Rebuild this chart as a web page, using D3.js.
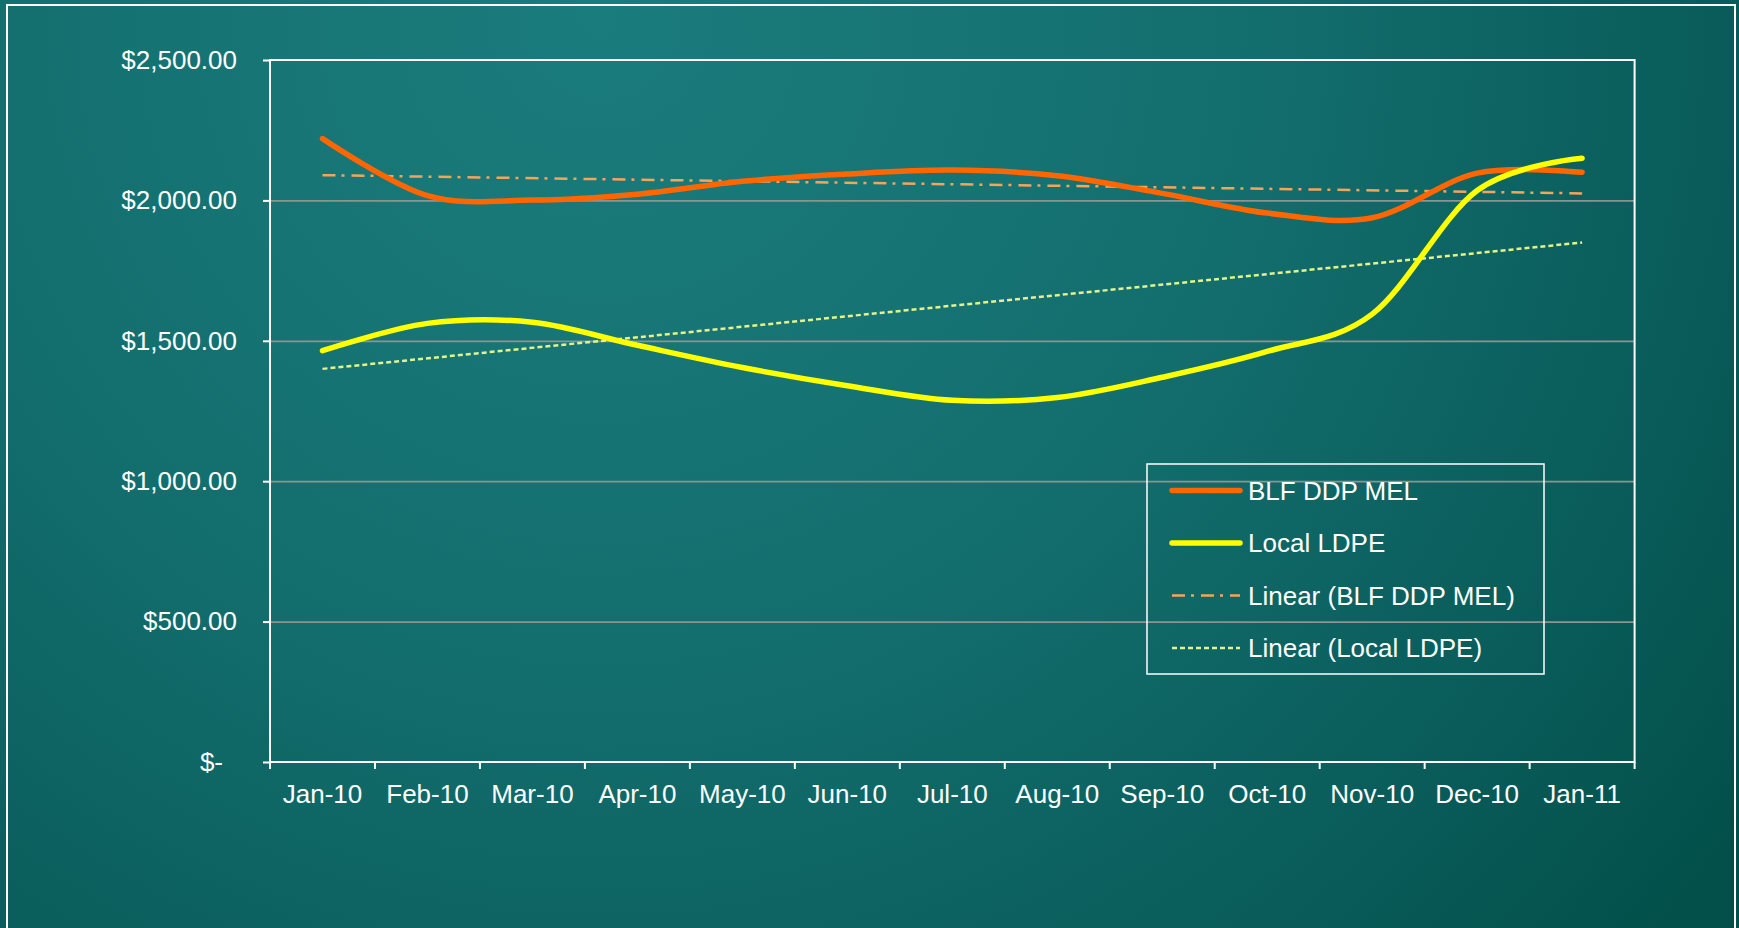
<!DOCTYPE html>
<html>
<head>
<meta charset="utf-8">
<script src="https://cdn.jsdelivr.net/npm/d3@7"></script>
<style>
  html, body { margin: 0; padding: 0; background: #0b5e5d; }
  svg { display: block; }
  text { font-family: Arial, 'Liberation Sans', sans-serif; fill: #ffffff; }
</style>
</head>
<body>
<div id="chart"></div>
<script>

var months = ['Jan-10', 'Feb-10', 'Mar-10', 'Apr-10', 'May-10', 'Jun-10',
  'Jul-10', 'Aug-10', 'Sep-10', 'Oct-10', 'Nov-10', 'Dec-10', 'Jan-11'];

var blfDdpMel = [2220, 2017, 2001, 2022, 2068, 2094, 2108, 2088, 2025, 1955,
  1938, 2097, 2100];
var localLdpe = [1465, 1562, 1566, 1484, 1405, 1340, 1288, 1298, 1370, 1462,
  1595, 2035, 2150];

// trend lines: first month, last month
var blfTrend = [2090, 2025];
var ldpeTrend = [1400, 1850];

var yTicks = [0, 500, 1000, 1500, 2000, 2500];
var legendLabels = ['BLF DDP MEL', 'Local LDPE', 'Linear (BLF DDP MEL)',
  'Linear (Local LDPE)'];

var W = 1739, H = 928;
var plot = { left: 270, top: 60, right: 1634.6, bottom: 762 };

var styles = [
  { stroke: '#ff6600', width: 5.5, dash: null },
  { stroke: '#ffff00', width: 5.5, dash: null },
  { stroke: '#f4a55c', width: 2.5, dash: '13,6,3,7' },
  { stroke: '#e4f28c', width: 2.5, dash: '5,3' }
];

var svg = d3.select('#chart').append('svg')
  .attr('width', W)
  .attr('height', H);

var defs = svg.append('defs');
var grad = defs.append('radialGradient')
  .attr('id', 'bg')
  .attr('gradientUnits', 'userSpaceOnUse')
  .attr('cx', 600).attr('cy', 20).attr('r', 1400);
grad.append('stop').attr('offset', 0).attr('stop-color', '#1b7c7d');
grad.append('stop').attr('offset', 0.45).attr('stop-color', '#136f6e');
grad.append('stop').attr('offset', 0.8).attr('stop-color', '#095c5a');
grad.append('stop').attr('offset', 1).attr('stop-color', '#03504a');

svg.append('rect')
  .attr('width', W).attr('height', H)
  .attr('fill', 'url(#bg)');

// outer frame, runs off the bottom of the page
svg.append('rect')
  .attr('x', 7).attr('y', 5)
  .attr('width', 1728).attr('height', H + 20)
  .attr('fill', 'none')
  .attr('stroke', '#ffffff')
  .attr('stroke-width', 2);

var x = d3.scaleBand()
  .domain(months)
  .range([plot.left, plot.right])
  .paddingInner(0).paddingOuter(0);

var y = d3.scaleLinear()
  .domain([0, 2500])
  .range([plot.bottom, plot.top]);

function cx(d) {
  return x(d) + x.bandwidth() / 2;
}

// gridlines
svg.append('g').attr('class', 'grid')
  .attr('transform', 'translate(' + plot.left + ',0)')
  .call(d3.axisLeft(y)
    .tickValues(yTicks.filter(function (v) { return v > 0 && v < 2500; }))
    .tickSize(-(plot.right - plot.left))
    .tickFormat(''))
  .call(function (g) {
    g.select('.domain').remove();
    g.selectAll('line')
      .attr('stroke', '#8e9292')
      .attr('stroke-width', 1.8);
  });

// y axis
svg.append('g').attr('class', 'y-axis')
  .attr('transform', 'translate(' + plot.left + ',0)')
  .call(d3.axisLeft(y)
    .tickValues(yTicks)
    .tickSize(7)
    .tickPadding(26)
    .tickFormat(function (v) {
      return v === 0 ? '$-' : d3.format('$,.2f')(v);
    }))
  .call(function (g) {
    g.select('.domain').remove();
    g.selectAll('line').attr('stroke', '#ffffff').attr('stroke-width', 2);
    g.selectAll('text')
      .attr('font-size', 26)
      .attr('fill', '#ffffff')
      .attr('x', function (v) { return v === 0 ? -47 : -33; });
  });

// x axis labels at category centers
svg.append('g').attr('class', 'x-axis')
  .attr('transform', 'translate(0,' + plot.bottom + ')')
  .call(d3.axisBottom(x)
    .tickSize(0)
    .tickPadding(22.5))
  .call(function (g) {
    g.select('.domain').remove();
    g.selectAll('text')
      .attr('font-size', 26)
      .attr('fill', '#ffffff');
  });

// x ticks on category boundaries
var bounds = months.map(function (m) { return x(m); }).concat([plot.right]);
svg.append('g').attr('class', 'x-ticks')
  .selectAll('line')
  .data(bounds)
  .join('line')
  .attr('x1', function (d) { return d; })
  .attr('x2', function (d) { return d; })
  .attr('y1', plot.bottom)
  .attr('y2', plot.bottom + 7)
  .attr('stroke', '#ffffff')
  .attr('stroke-width', 2);

// plot border
svg.append('rect')
  .attr('x', plot.left).attr('y', plot.top)
  .attr('width', plot.right - plot.left)
  .attr('height', plot.bottom - plot.top)
  .attr('fill', 'none')
  .attr('stroke', '#ffffff')
  .attr('stroke-width', 2);

// uniform catmull-rom, close to the office "smoothed line"
var smooth = d3.line()
  .x(function (d, i) { return cx(months[i]); })
  .y(function (d) { return y(d); })
  .curve(d3.curveCatmullRom.alpha(0));

var lines = svg.append('g').attr('class', 'lines');

function trendPath(vals) {
  return d3.line()([
    [cx(months[0]), y(vals[0])],
    [cx(months[months.length - 1]), y(vals[1])]
  ]);
}

lines.append('path')
  .attr('d', trendPath(blfTrend))
  .attr('fill', 'none')
  .attr('stroke', styles[2].stroke)
  .attr('stroke-width', styles[2].width)
  .attr('stroke-dasharray', styles[2].dash);

lines.append('path')
  .attr('d', trendPath(ldpeTrend))
  .attr('fill', 'none')
  .attr('stroke', styles[3].stroke)
  .attr('stroke-width', styles[3].width)
  .attr('stroke-dasharray', styles[3].dash);

[blfDdpMel, localLdpe].forEach(function (series, i) {
  lines.append('path')
    .attr('d', smooth(series))
    .attr('fill', 'none')
    .attr('stroke', styles[i].stroke)
    .attr('stroke-width', styles[i].width)
    .attr('stroke-linecap', 'round')
    .attr('stroke-linejoin', 'round');
});

// legend
var legend = svg.append('g').attr('class', 'legend')
  .attr('transform', 'translate(1147,464)');

legend.append('rect')
  .attr('width', 397).attr('height', 210)
  .attr('fill', 'none')
  .attr('stroke', '#ffffff')
  .attr('stroke-width', 1.5);

var rows = legend.selectAll('g.row')
  .data(legendLabels)
  .join('g')
  .attr('class', 'row')
  .attr('transform', function (d, i) {
    return 'translate(0,' + (26.5 + i * 52.5) + ')';
  });

rows.append('line')
  .attr('x1', 25).attr('x2', 93)
  .attr('y1', 0).attr('y2', 0)
  .attr('stroke', function (d, i) { return styles[i].stroke; })
  .attr('stroke-width', function (d, i) { return styles[i].width; })
  .attr('stroke-dasharray', function (d, i) { return styles[i].dash; })
  .attr('stroke-linecap', function (d, i) { return styles[i].dash ? 'butt' : 'round'; });

rows.append('text')
  .attr('x', 101)
  .attr('y', 0)
  .attr('dy', '0.35em')
  .attr('font-size', 26)
  .text(function (d) { return d; });

</script>
</body>
</html>
